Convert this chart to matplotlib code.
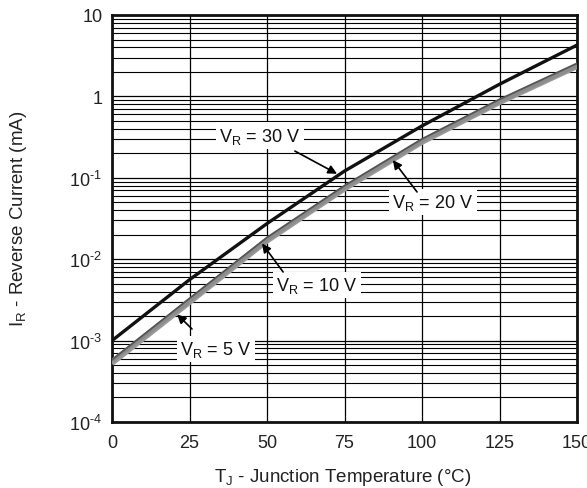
import matplotlib
matplotlib.use("Agg")
import matplotlib.pyplot as plt
from matplotlib.ticker import FixedLocator, LogLocator, NullFormatter

plt.rcParams['font.family'] = ['Liberation Sans', 'DejaVu Sans']
plt.rcParams['mathtext.fontset'] = 'custom'
plt.rcParams['mathtext.rm'] = 'Liberation Sans'
plt.rcParams['mathtext.it'] = 'Liberation Sans'

temperature = [0, 25, 50, 75, 100, 125, 150]
ir_30v = [1.0e-3, 5.6e-3, 2.74e-2, 0.121, 0.434, 1.41, 4.27]
ir_20v = [5.8e-4, 3.3e-3, 1.85e-2, 8.0e-2, 0.30, 0.92, 2.55]
ir_10v = [5.6e-4, 3.1e-3, 1.75e-2, 7.6e-2, 0.285, 0.87, 2.40]
ir_5v = [5.2e-4, 2.9e-3, 1.65e-2, 7.2e-2, 0.27, 0.83, 2.30]

x_ticks = [0, 25, 50, 75, 100, 125, 150]
y_ticks = [1e-4, 1e-3, 1e-2, 1e-1, 1, 10]
y_tick_labels = ['10$^{\\text{-4}}$', '10$^{\\text{-3}}$', '10$^{\\text{-2}}$',
                 '10$^{\\text{-1}}$', '1', '10']

W, H = 587, 489
L, R, T, B = 112, 577, 16, 423

fig = plt.figure(figsize=(W / 100, H / 100), dpi=100)
ax = fig.add_axes([L / W, 1 - B / H, (R - L) / W, (B - T) / H])
ax.set_yscale('log')
ax.set_xlim(0, 150)
ax.set_ylim(1e-4, 10)

ax.xaxis.set_major_locator(FixedLocator(x_ticks))
ax.yaxis.set_major_locator(FixedLocator(y_ticks))
ax.yaxis.set_minor_locator(LogLocator(base=10, subs=range(2, 10)))
ax.yaxis.set_minor_formatter(NullFormatter())
ax.set_xticklabels([str(t) for t in x_ticks])
ax.set_yticklabels(y_tick_labels)
ax.tick_params(axis='both', which='both', length=0, labelsize=13, colors='#222222')
ax.tick_params(axis='y', pad=7)
ax.tick_params(axis='x', pad=9)
ax.grid(True, which='major', axis='both', color='black', linewidth=0.9)
ax.grid(True, which='minor', axis='y', color='black', linewidth=0.8)
for s in ax.spines.values():
    s.set_linewidth(2.0)
    s.set_color('#111111')

ax.plot(temperature, ir_5v, color='#9a9a9a', linewidth=3.2, solid_capstyle='butt', zorder=3)
ax.plot(temperature, ir_10v, color='#8c8c8c', linewidth=3.2, solid_capstyle='butt', zorder=3)
ax.plot(temperature, ir_20v, color='#555555', linewidth=1.3, zorder=4)
ax.plot(temperature, ir_30v, color='#111111', linewidth=2.4, zorder=5)

bbox = dict(facecolor='white', edgecolor='none', pad=2.5)
arrow = dict(arrowstyle='-|>', color='black', lw=1.2, mutation_scale=13, shrinkA=0, shrinkB=0)


def label(text, text_xy, tail, head):
    ax.text(text_xy[0], text_xy[1], text, fontsize=13, ha='center', va='center',
            bbox=bbox, zorder=6, color='#111111')
    ax.annotate('', xy=head, xytext=tail, arrowprops=arrow, zorder=7)


label('V$_{\\mathregular{R}}$ = 30 V', (47.7, 0.327), (59.0, 0.213), (72.6, 0.112))
label('V$_{\\mathregular{R}}$ = 20 V', (103.5, 0.0505), (98.4, 0.067), (90.6, 0.165))
label('V$_{\\mathregular{R}}$ = 10 V', (66.1, 0.00482), (55.2, 0.00697), (48.4, 0.0156))
label('V$_{\\mathregular{R}}$ = 5 V', (33.5, 7.9e-4), (25.8, 1.39e-3), (21.0, 2.1e-3))

fig.text(343 / W, 1 - 478 / H, 'T$_{\\mathregular{J}}$ - Junction Temperature (°C)',
         fontsize=13.5, color='#222222', ha='center', va='center')
fig.text(19 / W, 1 - 219 / H, 'I$_{\\mathregular{R}}$ - Reverse Current (mA)',
         fontsize=13.5, color='#222222', ha='center', va='center', rotation=90)

fig.savefig('out.png', dpi=100)
